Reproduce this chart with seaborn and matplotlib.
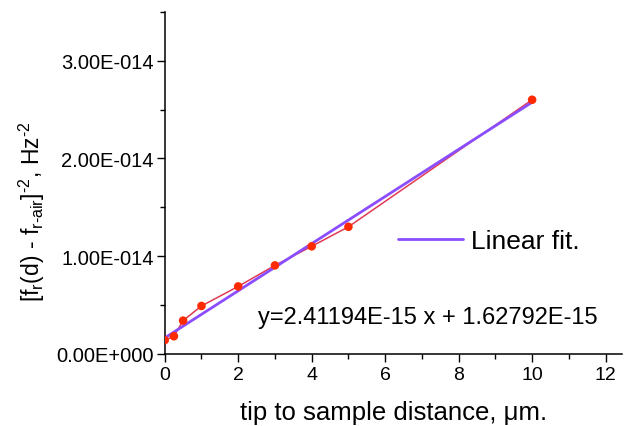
import matplotlib
matplotlib.use("Agg")
import matplotlib.pyplot as plt
from matplotlib.ticker import FuncFormatter, MultipleLocator
import numpy as np
import pandas as pd
import seaborn as sns

# Measured points
distance_um = [0, 0.25, 0.5, 1, 2, 3, 4, 5, 10]
inv_sq_shift = [1.4e-15, 1.8e-15, 3.4e-15, 4.9e-15, 6.9e-15, 9.05e-15, 1.10e-14, 1.30e-14, 2.60e-14]

# Linear fit parameters
fit_slope = 2.41194e-15
fit_intercept = 1.62792e-15
fit_range = [0, 10]

x_ticks = [0, 2, 4, 6, 8, 10, 12]
y_ticks = [0, 1e-14, 2e-14, 3e-14]

sns.set_theme(style="ticks")
plt.rcParams["font.family"] = ["Liberation Sans", "DejaVu Sans"]
plt.rcParams["mathtext.fontset"] = "custom"
plt.rcParams["mathtext.rm"] = "Liberation Sans"
plt.rcParams["mathtext.it"] = "Liberation Sans"
plt.rcParams["text.color"] = "black"
plt.rcParams["xtick.color"] = "black"
plt.rcParams["ytick.color"] = "black"
plt.rcParams["axes.labelcolor"] = "black"

data = pd.DataFrame({"d": distance_um, "v": inv_sq_shift})
fit = pd.DataFrame({"d": fit_range,
                    "v": [fit_slope * x + fit_intercept for x in fit_range]})

fig = plt.figure(figsize=(6.24, 4.27), dpi=100)
ax = fig.add_axes([0.264, 0.169, 0.733, 0.801])

sns.lineplot(data=data, x="d", y="v", ax=ax, color="#e03a55", linewidth=1.1, zorder=2)
sns.lineplot(data=fit, x="d", y="v", ax=ax, color="#8a4dff", linewidth=2.0,
             label="Linear fit.", zorder=3)
sns.scatterplot(data=data, x="d", y="v", ax=ax, color="#ff2a00", s=38,
                edgecolor="none", zorder=4)

ax.set_xlim(0, 12.45)
ax.set_ylim(0, 3.5e-14)
ax.set_xticks(x_ticks)
ax.set_yticks(y_ticks)
ax.xaxis.set_minor_locator(MultipleLocator(1))
ax.yaxis.set_minor_locator(MultipleLocator(0.5e-14))


def sci_label(v, pos):
    if v == 0:
        return "0.00E+000"
    exp = int(np.floor(np.log10(abs(v))))
    mant = v / 10 ** exp
    sign = "-" if exp < 0 else "+"
    return f"{mant:.2f}E{sign}{abs(exp):03d}"


ax.yaxis.set_major_formatter(FuncFormatter(sci_label))
ax.xaxis.set_major_formatter(FuncFormatter(lambda v, p: f"{int(v)}"))
ax.tick_params(axis="y", which="major", labelsize=14.5, length=6, width=1, pad=2, direction="out")
ax.tick_params(axis="x", which="major", labelsize=14, length=6, width=1, pad=3, direction="out")
ax.tick_params(which="minor", length=3.5, width=1, direction="out")

for side in ["top", "right"]:
    ax.spines[side].set_visible(False)
for side in ["left", "bottom"]:
    ax.spines[side].set_color("black")
    ax.spines[side].set_linewidth(1.1)

ax.set_xlabel("")
ax.set_ylabel("")
fig.text(394 / 624, 1 - 413 / 427, "tip to sample distance, \u03bcm.", fontsize=18.5,
         ha="center", va="center")
fig.text(32 / 624, 1 - 212 / 427,
         r"[f$_\mathrm{r}$(d) - f$_\mathrm{r\text{-}air}$]$^{\text{-}2}$, Hz$^{\text{-}2}$",
         fontsize=16.5, rotation=90, ha="center", va="center")

ax.annotate("y=2.41194E-15 x + 1.62792E-15", xy=(258 / 624, 1 - 318 / 427),
            xycoords="figure fraction", fontsize=17, ha="left", va="center")

leg = ax.legend(loc="center left", bbox_to_anchor=(0.51, 0.33), frameon=False,
                fontsize=19, handlelength=2.45, handletextpad=0.3, borderaxespad=0,
                borderpad=0)

fig.savefig("out.png", dpi=100)
